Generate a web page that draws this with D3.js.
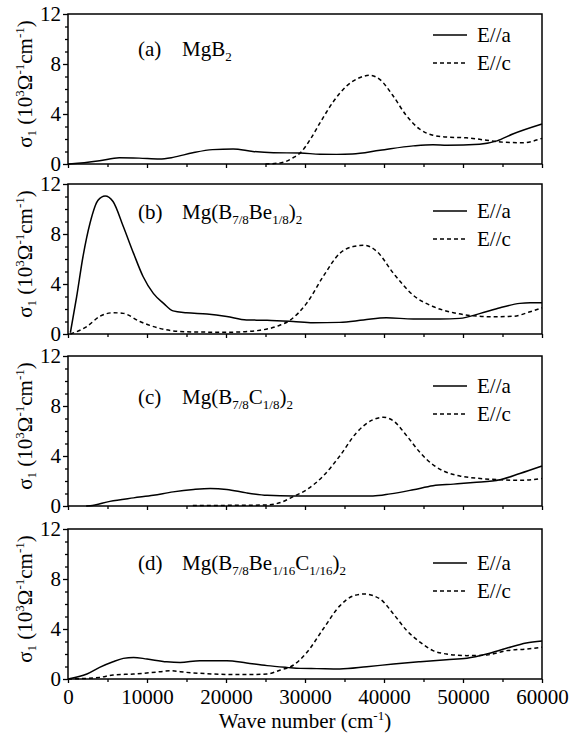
<!DOCTYPE html>
<html>
<head>
<meta charset="utf-8">
<script src="https://cdn.jsdelivr.net/npm/d3@7"></script>
<style>
  body { margin: 0; background: #fff; }
  svg text { font-family: "Liberation Serif", "Times New Roman", Times, serif !important; fill: #000; }
</style>
</head>
<body>
<div id="chart"></div>
<script>
// figure size
var width = 570, height = 748;
var margin = {left: 68, right: 28};
var serif = '"Liberation Serif", "Times New Roman", Times, serif';

// panel tags + sample names
var panelTags = ["(a)", "(b)", "(c)", "(d)"];
// formula pieces: [text, "sub" or ""]
var formulas = [
  [["MgB", ""], ["2", "sub"]],
  [["Mg(B", ""], ["7/8", "sub"], ["Be", ""], ["1/8", "sub"], [")", ""], ["2", "sub"]],
  [["Mg(B", ""], ["7/8", "sub"], ["C", ""], ["1/8", "sub"], [")", ""], ["2", "sub"]],
  [["Mg(B", ""], ["7/8", "sub"], ["Be", ""], ["1/16", "sub"], ["C", ""], ["1/16", "sub"], [")", ""], ["2", "sub"]]
];
var seriesNames = ["E//a", "E//c"];

var xTicks = [0, 10000, 20000, 30000, 40000, 50000, 60000];
var xMinorTicks = [5000, 15000, 25000, 35000, 45000, 55000];
var yTicks = [0, 4, 8, 12];
var yMinorTicks = [1, 2, 3, 5, 6, 7, 9, 10, 11];

// sigma1 (10^3 Ohm^-1 cm^-1) vs wave number (cm^-1)
var mgb2_Ea = [[0,0],[500,0.02],[4000,0.26],[6500,0.5],[9000,0.47],[11600,0.4],[13300,0.53],[15800,0.9],
  [18300,1.15],[20900,1.2],[23400,1.0],[26000,0.9],[29400,0.88],[31900,0.78],[34000,0.77],[36000,0.8],
  [39500,1.1],[43700,1.45],[46200,1.55],[48000,1.5],[52100,1.58],[54300,1.85],[56300,2.4],[60000,3.2]];
var mgb2_Ec = [[25000,0],[27000,0.1],[28500,0.5],[29500,0.95],[30700,2.0],[32000,3.4],[33600,5.0],[35200,6.2],
  [36900,6.9],[38200,7.1],[39500,6.75],[41100,5.5],[42800,3.9],[44500,2.8],[46200,2.3],[48000,2.15],
  [50400,2.1],[53000,1.9],[55000,1.75],[57500,1.7],[60000,2.05]];

var be_Ea = [[300,0.1],[1100,3.0],[1900,6.2],[2800,8.9],[3800,10.7],[4700,11.05],[5700,10.6],[7000,8.6],
  [8300,6.45],[9500,4.6],[10800,3.25],[12100,2.45],[13300,1.85],[15000,1.7],[17600,1.6],[20100,1.4],
  [22600,1.12],[25200,1.1],[28500,1.0],[31000,0.9],[34400,0.93],[37400,1.12],[40300,1.3],[43700,1.2],
  [47100,1.2],[49600,1.25],[52200,1.65],[54700,2.1],[57200,2.45],[58500,2.5],[60000,2.5]];
var be_Ec = [[300,0],[2400,0.6],[4000,1.4],[5700,1.7],[7000,1.65],[9100,1.0],[11600,0.45],[14200,0.2],
  [17600,0.15],[20900,0.15],[24300,0.3],[26800,0.7],[28100,1.1],[30200,2.45],[32300,4.6],[34400,6.45],
  [36100,7.0],[37500,7.1],[39100,6.6],[41200,4.85],[43700,3.1],[46200,2.2],[48800,1.7],[51300,1.46],
  [53800,1.38],[56400,1.42],[58500,1.78],[60000,2.1]];

var c_Ea = [[2300,0],[2800,0.02],[5300,0.37],[8300,0.65],[10800,0.86],[13300,1.13],[15900,1.32],[18000,1.4],
  [20100,1.32],[22600,1.05],[25200,0.86],[28500,0.8],[31000,0.8],[35000,0.8],[38600,0.8],[40800,0.97],
  [43700,1.3],[46200,1.62],[48800,1.75],[51300,1.88],[54700,2.1],[57200,2.6],[60000,3.2]];
var c_Ec = [[15800,0.05],[20000,0.05],[25200,0.08],[27000,0.3],[28500,0.75],[30200,1.3],[32300,2.4],
  [34400,4.0],[36500,5.85],[38600,6.9],[39900,7.1],[41200,6.8],[42900,5.6],[44600,4.25],[46200,3.3],
  [47900,2.7],[49600,2.4],[52200,2.2],[54700,2.1],[57200,2.05],[60000,2.2]];

var bec_Ea = [[0,0],[2400,0.4],[4000,0.93],[5700,1.38],[7000,1.65],[8300,1.73],[10000,1.6],[12500,1.38],
  [14200,1.33],[16700,1.47],[20100,1.47],[22600,1.28],[25200,1.07],[27700,0.93],[29400,0.85],[31500,0.83],
  [34400,0.8],[37800,0.98],[41200,1.2],[44600,1.38],[47900,1.54],[50500,1.66],[53000,2.0],[55500,2.46],
  [58000,2.88],[60000,3.04]];
var bec_Ec = [[0,0],[4000,0.13],[5700,0.32],[8300,0.4],[11600,0.58],[12900,0.66],[15000,0.53],[18400,0.4],
  [21800,0.35],[25200,0.4],[26800,0.7],[28500,1.1],[30200,2.1],[32300,4.0],[34400,5.85],[36100,6.65],
  [37500,6.8],[39500,6.4],[41200,5.2],[42900,3.86],[44600,2.93],[46200,2.27],[47900,2.0],[50500,1.87],
  [53000,1.92],[55500,2.27],[58000,2.4],[60000,2.54]];

var panelData = [[mgb2_Ea, mgb2_Ec], [be_Ea, be_Ec], [c_Ea, c_Ec], [bec_Ea, bec_Ec]];

// layout per panel
var panelTop = [14, 184, 356, 529];
var panelH = 150;
var tagBase = [42, 35, 48, 41];
var legendBase = [28, 34, 37, 41];

var svg = d3.select("#chart").append("svg")
  .attr("width", width)
  .attr("height", height)
  .style("font-family", serif);

var x = d3.scaleLinear().domain([0, 60000]).range([margin.left, width - margin.right]);

var line = d3.line()
  .x(function(d) { return x(d[0]); })
  .curve(d3.curveMonotoneX);

var dashes = [null, "4,3"];

panelData.forEach(function(series, i) {
  var top = panelTop[i];
  var y = d3.scaleLinear().domain([0, 12]).range([top + panelH, top]);
  line.y(function(d) { return y(d[1]); });

  var g = svg.append("g").attr("class", "panel");

  // curves
  series.forEach(function(s, k) {
    g.append("path")
      .datum(s)
      .attr("d", line)
      .attr("fill", "none")
      .attr("stroke", "#000")
      .attr("stroke-width", 1.5)
      .attr("stroke-dasharray", dashes[k]);
  });

  // frame
  g.append("rect")
    .attr("x", x(0)).attr("y", top)
    .attr("width", x(60000) - x(0)).attr("height", panelH)
    .attr("fill", "none").attr("stroke", "#000").attr("stroke-width", 1.5);

  // y axis
  g.append("g").attr("transform", "translate(" + x(0) + ",0)")
    .call(d3.axisLeft(y).tickValues(yTicks).tickSize(5).tickPadding(2).tickFormat(d3.format("d")));
  g.append("g").attr("transform", "translate(" + x(0) + ",0)")
    .call(d3.axisLeft(y).tickValues(yMinorTicks).tickSize(3).tickFormat(""));

  // x axis
  g.append("g").attr("transform", "translate(0," + (top + panelH) + ")")
    .call(d3.axisBottom(x).tickValues(xTicks).tickSize(4).tickPadding(6)
      .tickFormat(i == 3 ? d3.format("d") : ""));
  g.append("g").attr("transform", "translate(0," + (top + panelH) + ")")
    .call(d3.axisBottom(x).tickValues(xMinorTicks).tickSize(3).tickFormat(""));

  g.selectAll(".domain").remove();
  g.selectAll(".tick line").attr("stroke", "#000").attr("stroke-width", 1.3);
  g.selectAll("g").attr("font-family", null).attr("font-size", null);
  g.selectAll(".tick text").style("font-size", "21px").style("font-family", serif);

  // y title
  var yt = g.append("text")
    .attr("transform", "translate(32," + (top + 70) + ") rotate(-90)")
    .attr("text-anchor", "middle")
    .style("font-size", "21px");
  yt.append("tspan").text("\u03c3");
  yt.append("tspan").style("font-size", "13px").attr("dy", 4).text("1");
  yt.append("tspan").attr("dy", -4).text(" (10");
  yt.append("tspan").style("font-size", "13px").attr("dy", -8).text("3");
  yt.append("tspan").attr("dy", 8).text("\u03a9");
  yt.append("tspan").style("font-size", "13px").attr("dy", -8).text("-1");
  yt.append("tspan").attr("dy", 8).text("cm");
  yt.append("tspan").style("font-size", "13px").attr("dy", -8).text("-1");
  yt.append("tspan").attr("dy", 8).text(")");

  // panel tag + formula
  g.append("text").attr("x", 138).attr("y", top + tagBase[i]).style("font-size", "21px").text(panelTags[i]);
  var ft = g.append("text").attr("x", 182).attr("y", top + tagBase[i]).style("font-size", "21px");
  var shift = 0;
  formulas[i].forEach(function(p) {
    var isSub = p[1] == "sub";
    var dy = (isSub ? 5 : 0) - shift;
    shift = isSub ? 5 : 0;
    ft.append("tspan").attr("dy", dy).style("font-size", isSub ? "13px" : "21px").text(p[0]);
  });

  // legend
  seriesNames.forEach(function(name, k) {
    var by = top + legendBase[i] + k * 28;
    g.append("line")
      .attr("x1", 433).attr("x2", 467)
      .attr("y1", by - 7).attr("y2", by - 7)
      .attr("stroke", "#000").attr("stroke-width", 1.5)
      .attr("stroke-dasharray", dashes[k]);
    g.append("text").attr("x", 477).attr("y", by).style("font-size", "21px").text(name);
  });
});

// x title
var xt = svg.append("text")
  .attr("x", (x(0) + x(60000)) / 2)
  .attr("y", 728)
  .attr("text-anchor", "middle")
  .style("font-size", "21px");
xt.append("tspan").text("Wave number (cm");
xt.append("tspan").style("font-size", "13px").attr("dy", -8).text("-1");
xt.append("tspan").attr("dy", 8).text(")");
</script>
</body>
</html>
